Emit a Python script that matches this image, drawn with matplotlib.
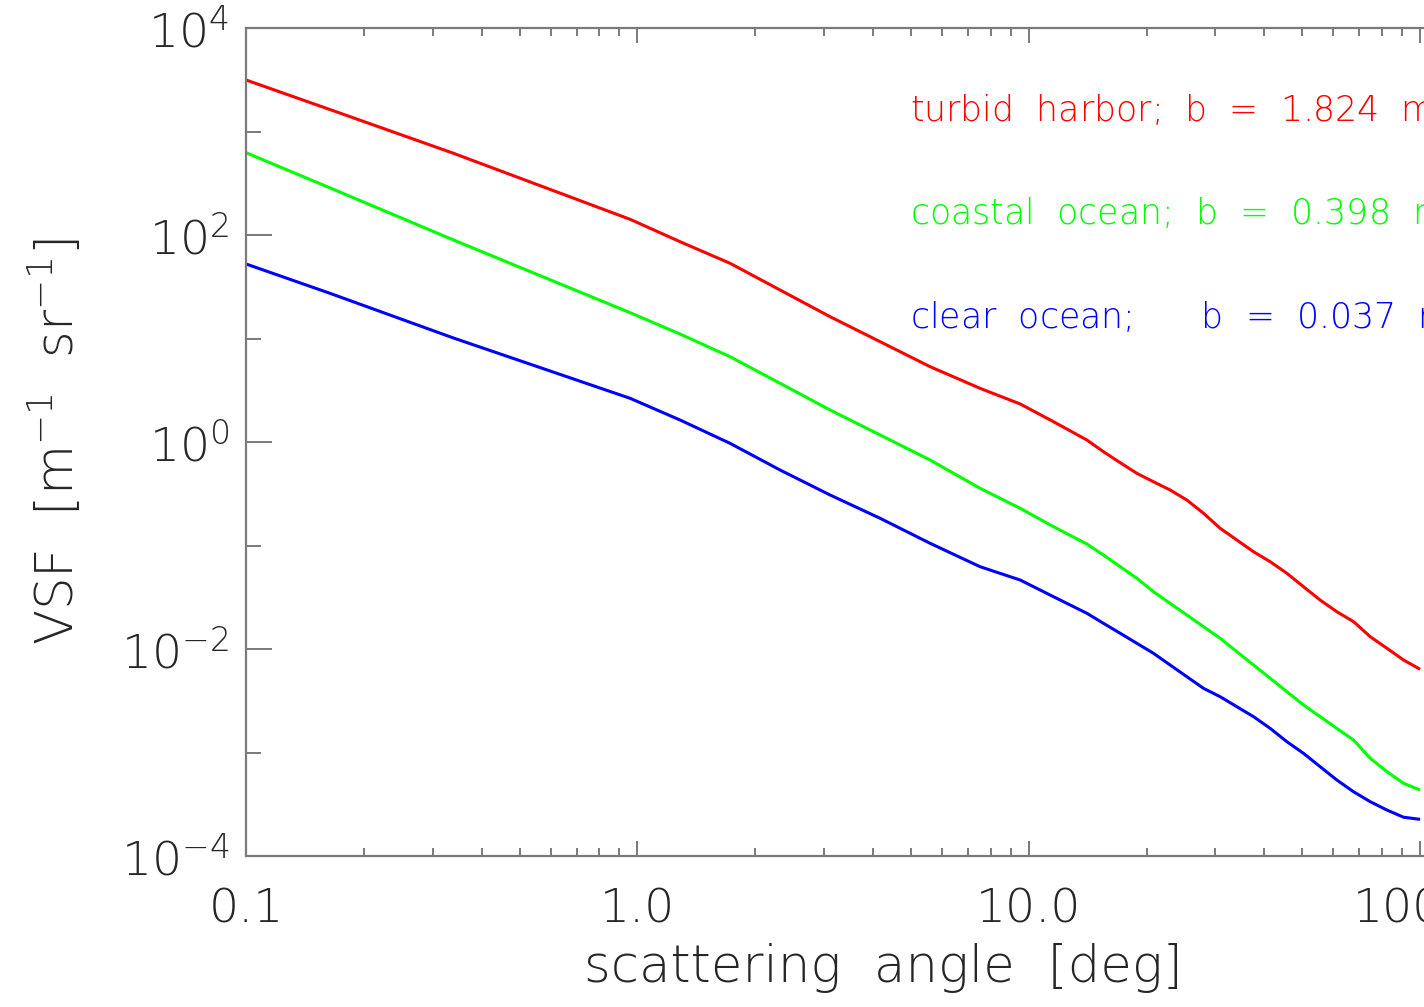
import numpy as np
import matplotlib
matplotlib.use("Agg")
import matplotlib.pyplot as plt
from matplotlib.ticker import FixedLocator, FixedFormatter, NullFormatter

# ---- data ----
angle_deg = [0.1, 0.164, 0.339, 0.958, 1.285, 1.725, 2.316, 3.108, 4.172, 5.598,
             7.51, 9.51, 11.57, 14.08, 15.52, 17.13, 18.89, 20.83, 22.97, 25.35,
             27.96, 30.84, 34.02, 37.52, 41.40, 45.66, 50.35, 55.55, 61.29, 67.58,
             74.56, 82.28, 90.72, 100.0]

vsf_turbid = [3146, 1628, 615.8, 141.8, 86.2, 53.3, 29.4, 16.24, 9.31, 5.34,
              3.30, 2.33, 1.571, 1.045, 0.806, 0.631, 0.498, 0.413, 0.344, 0.275,
              0.205, 0.1466, 0.1130, 0.0871, 0.0697, 0.0539, 0.0400, 0.0297, 0.0229, 0.0184,
              0.01315, 0.01016, 0.00783, 0.00637]
vsf_coastal = [624, 285, 89.5, 17.76, 11.05, 6.67, 3.69, 2.038, 1.169, 0.670,
               0.357, 0.2288, 0.1519, 0.1034, 0.0809, 0.0624, 0.0482, 0.0358, 0.0276, 0.0213,
               0.01642, 0.01269, 0.00942, 0.00701, 0.00521, 0.00387, 0.00288, 0.00222, 0.00171, 0.00132,
               0.000879, 0.000653, 0.000504, 0.000434]
vsf_clear = [52.5, 27.3, 10.11, 2.644, 1.632, 0.971, 0.536, 0.3075, 0.1831, 0.1050,
             0.0624, 0.0464, 0.0320, 0.02213, 0.01771, 0.01418, 0.01135, 0.00909, 0.00701, 0.00540,
             0.00417, 0.00346, 0.00277, 0.00222, 0.00171, 0.001272, 0.000982, 0.000729, 0.000542, 0.000418,
             0.000335, 0.000278, 0.000237, 0.000226]

series_labels = ["turbid  harbor;  b  =  1.824  m$^{-1}$",
                 "coastal  ocean;  b  =  0.398  m$^{-1}$",
                 "clear  ocean;      b  =  0.037  m$^{-1}$"]
series_colors = ["#ff0000", "#00ff00", "#0000ff"]

x_major = [0.1, 1.0, 10.0, 100.0]
x_major_labels = ["0.1", "1.0", "10.0", "100.0"]
y_major = [1e-4, 1e-2, 1e0, 1e2, 1e4]
y_major_labels = [r"$10^{-4}$", r"$10^{-2}$", r"$10^{0}$", r"$10^{2}$", r"$10^{4}$"]
y_minor = [1e-3, 1e-1, 1e1, 1e3]

# ---- figure ----
W, H = 1424, 1007
plt.rcParams['font.family'] = ['DejaVu Sans']
plt.rcParams['mathtext.fontset'] = 'custom'
plt.rcParams['mathtext.rm'] = 'DejaVu Sans:extralight'
plt.rcParams['mathtext.it'] = 'DejaVu Sans:italic:extralight'
plt.rcParams['mathtext.bf'] = 'DejaVu Sans:extralight'
plt.rcParams['mathtext.sf'] = 'DejaVu Sans:extralight'
plt.rcParams['mathtext.default'] = 'rm'
fig = plt.figure(figsize=(W / 100, H / 100), dpi=100)

ax_left_px, ax_right_px, ax_top_px, ax_bot_px = 246, 1520, 28, 856
ax = fig.add_axes([ax_left_px / W, 1 - ax_bot_px / H,
                   (ax_right_px - ax_left_px) / W, (ax_bot_px - ax_top_px) / H])

for vals, col in zip([vsf_turbid, vsf_coastal, vsf_clear], series_colors):
    ax.plot(angle_deg, vals, color=col, lw=2.2, solid_joinstyle='round',
            solid_capstyle='butt')

ax.set_xscale('log')
ax.set_yscale('log')
ax.set_xlim(0.1, 180)
ax.set_ylim(1e-4, 1e4)

spine_col = '#7a7a7a'
txt_col = '#262626'
for s in ax.spines.values():
    s.set_color(spine_col)
    s.set_linewidth(1.6)

ax.xaxis.set_major_locator(FixedLocator(x_major))
ax.xaxis.set_major_formatter(FixedFormatter(x_major_labels))
x_minor = [m * d for d in [0.1, 1, 10, 100] for m in range(2, 10) if m * d < 180]
ax.xaxis.set_minor_locator(FixedLocator(x_minor))
ax.xaxis.set_minor_formatter(NullFormatter())

ax.yaxis.set_major_locator(FixedLocator(y_major))
ax.yaxis.set_major_formatter(FixedFormatter(y_major_labels))
ax.yaxis.set_minor_locator(FixedLocator(y_minor))
ax.yaxis.set_minor_formatter(NullFormatter())

ax.tick_params(axis='x', which='major', direction='in', length=11, width=1.4,
               color=spine_col, top=True, labelsize=34, labelcolor=txt_col, pad=23)
ax.tick_params(axis='x', which='minor', direction='in', length=5.5, width=1.4,
               color=spine_col, top=True)
ax.tick_params(axis='y', which='major', direction='in', length=18.5, width=1.4,
               color=spine_col, right=True, labelsize=34, labelcolor=txt_col, pad=12)
ax.tick_params(axis='y', which='minor', direction='in', length=10.5, width=1.4,
               color=spine_col, right=True)
for lab in ax.get_xticklabels() + ax.get_yticklabels():
    lab.set_fontweight(200)

ax.set_xlabel("scattering  angle  [deg]", fontsize=37, color=txt_col, labelpad=8,
              fontweight=200)
ax.set_ylabel(r"VSF  [m$^{-1}$  sr$^{-1}$]", fontsize=37, color=txt_col, labelpad=26,
              fontweight=200)

# annotations with the scattering coefficients
text_x_px = 910
base_y_px = [122, 225, 329]
for lab, col, by in zip(series_labels, series_colors, base_y_px):
    fig.text(text_x_px / W, 1 - by / H, lab, color=col, fontsize=25,
             va='baseline', ha='left', fontweight=200)

fig.savefig("out.png", dpi=100)
